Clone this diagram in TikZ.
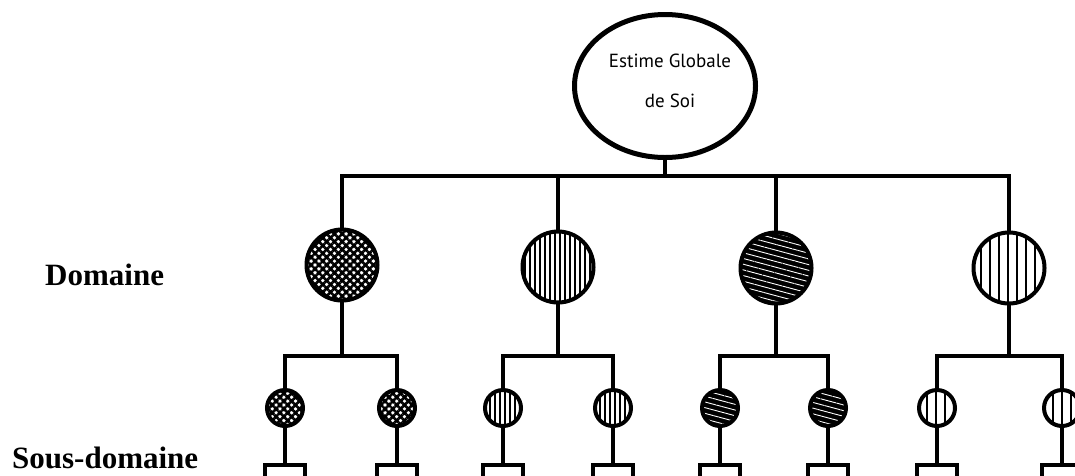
\documentclass[tikz,border=0pt]{standalone}
\usepackage{fontspec}
\setmainfont{Liberation Serif}
\newfontfamily\topfont{PT Sans}
\usetikzlibrary{shapes.geometric,patterns.meta}
\begin{document}
\begin{tikzpicture}[x=1pt,y=-1pt,
  conn/.style={line width=3.2pt},
  hbar/.style={line width=4pt,line cap=rect},
  dom/.style={circle,draw,line width=4pt,minimum size=71pt,inner sep=0pt},
  subd/.style={circle,draw,line width=4pt,minimum size=36pt,inner sep=0pt},
  leaf/.style={rectangle,draw,line width=3.5pt,minimum width=40pt,minimum height=40pt,inner sep=0pt,anchor=north},
  patA/.style={pattern={Hatch[angle=45,distance=5.5pt,line width=2.6pt]},pattern color=black},
  patB/.style={pattern={Lines[angle=90,distance=5pt,line width=2.6pt]},pattern color=black},
  patC/.style={preaction={fill=black},pattern={Lines[angle=-15,distance=5.5pt,line width=0.9pt]},pattern color=white},
  patD/.style={pattern={Lines[angle=90,distance=9pt,line width=2pt]},pattern color=black},
  lbl/.style={font=\fontsize{31}{31}\selectfont\bfseries,inner sep=0pt,anchor=base west}
]
\useasboundingbox (0,0) rectangle (1075,475);
\clip (0,0) rectangle (1075,475);
\fill[white] (0,0) rectangle (1075,475);

% top ellipse
\node[ellipse,draw,line width=5pt,minimum width=181pt,minimum height=143pt,inner sep=0pt] (top) at (665,86) {};
\node[font=\topfont\fontsize{19}{40}\selectfont,align=center,inner sep=0pt] (toptxt) at (670,81) {Estime Globale\\de Soi};

% domain circles
\node[dom,patA] (d1) at (342,265) {};
\node[dom,patB] (d2) at (558,267) {};
\node[dom,patC] (d3) at (776,268) {};
\node[dom,patD] (d4) at (1009,268) {};

% sub-domain circles
\node[subd,patA] (s11) at (285,408) {};
\node[subd,patA] (s12) at (397,408) {};
\node[subd,patB] (s21) at (503,408) {};
\node[subd,patB] (s22) at (613,408) {};
\node[subd,patC] (s31) at (720,408) {};
\node[subd,patC] (s32) at (828,408) {};
\node[subd,patD] (s41) at (937,408) {};
\node[subd,patD] (s42) at (1062,408) {};

% boxes
\foreach \n/\x in {11/285,12/397,21/503,22/613,31/720,32/828,41/937,42/1062}
  \node[leaf] (b\n) at (\x,463) {};

% junctions
\coordinate (j0) at (665,176);
\coordinate (j1) at (342,356);
\coordinate (j2) at (558,356);
\coordinate (j3) at (776,356);
\coordinate (j4) at (1009,356);

% connectors: top level
\draw[conn] (top) -- (j0);
\draw[hbar] (d1 |- j0) -- (d4 |- j0);
\foreach \d in {d1,d2,d3,d4}
  \draw[conn] (\d) -- (\d |- j0);

% connectors: domain to sub-domains
\foreach \d/\j/\a/\b in {d1/j1/s11/s12,d2/j2/s21/s22,d3/j3/s31/s32,d4/j4/s41/s42}{
  \draw[conn] (\d) -- (\j);
  \draw[hbar] (\a |- \j) -- (\b |- \j);
  \draw[conn] (\a) -- (\a |- \j);
  \draw[conn] (\b) -- (\b |- \j);
}

% sub-domains to boxes
\foreach \n in {11,12,21,22,31,32,41,42}
  \draw[conn] (s\n) -- (b\n);

% labels
\node[lbl] (ldom) at (45,285) {Domaine};
\node[lbl] (lsub) at (12,468) {Sous-domaine};
\end{tikzpicture}
\end{document}
